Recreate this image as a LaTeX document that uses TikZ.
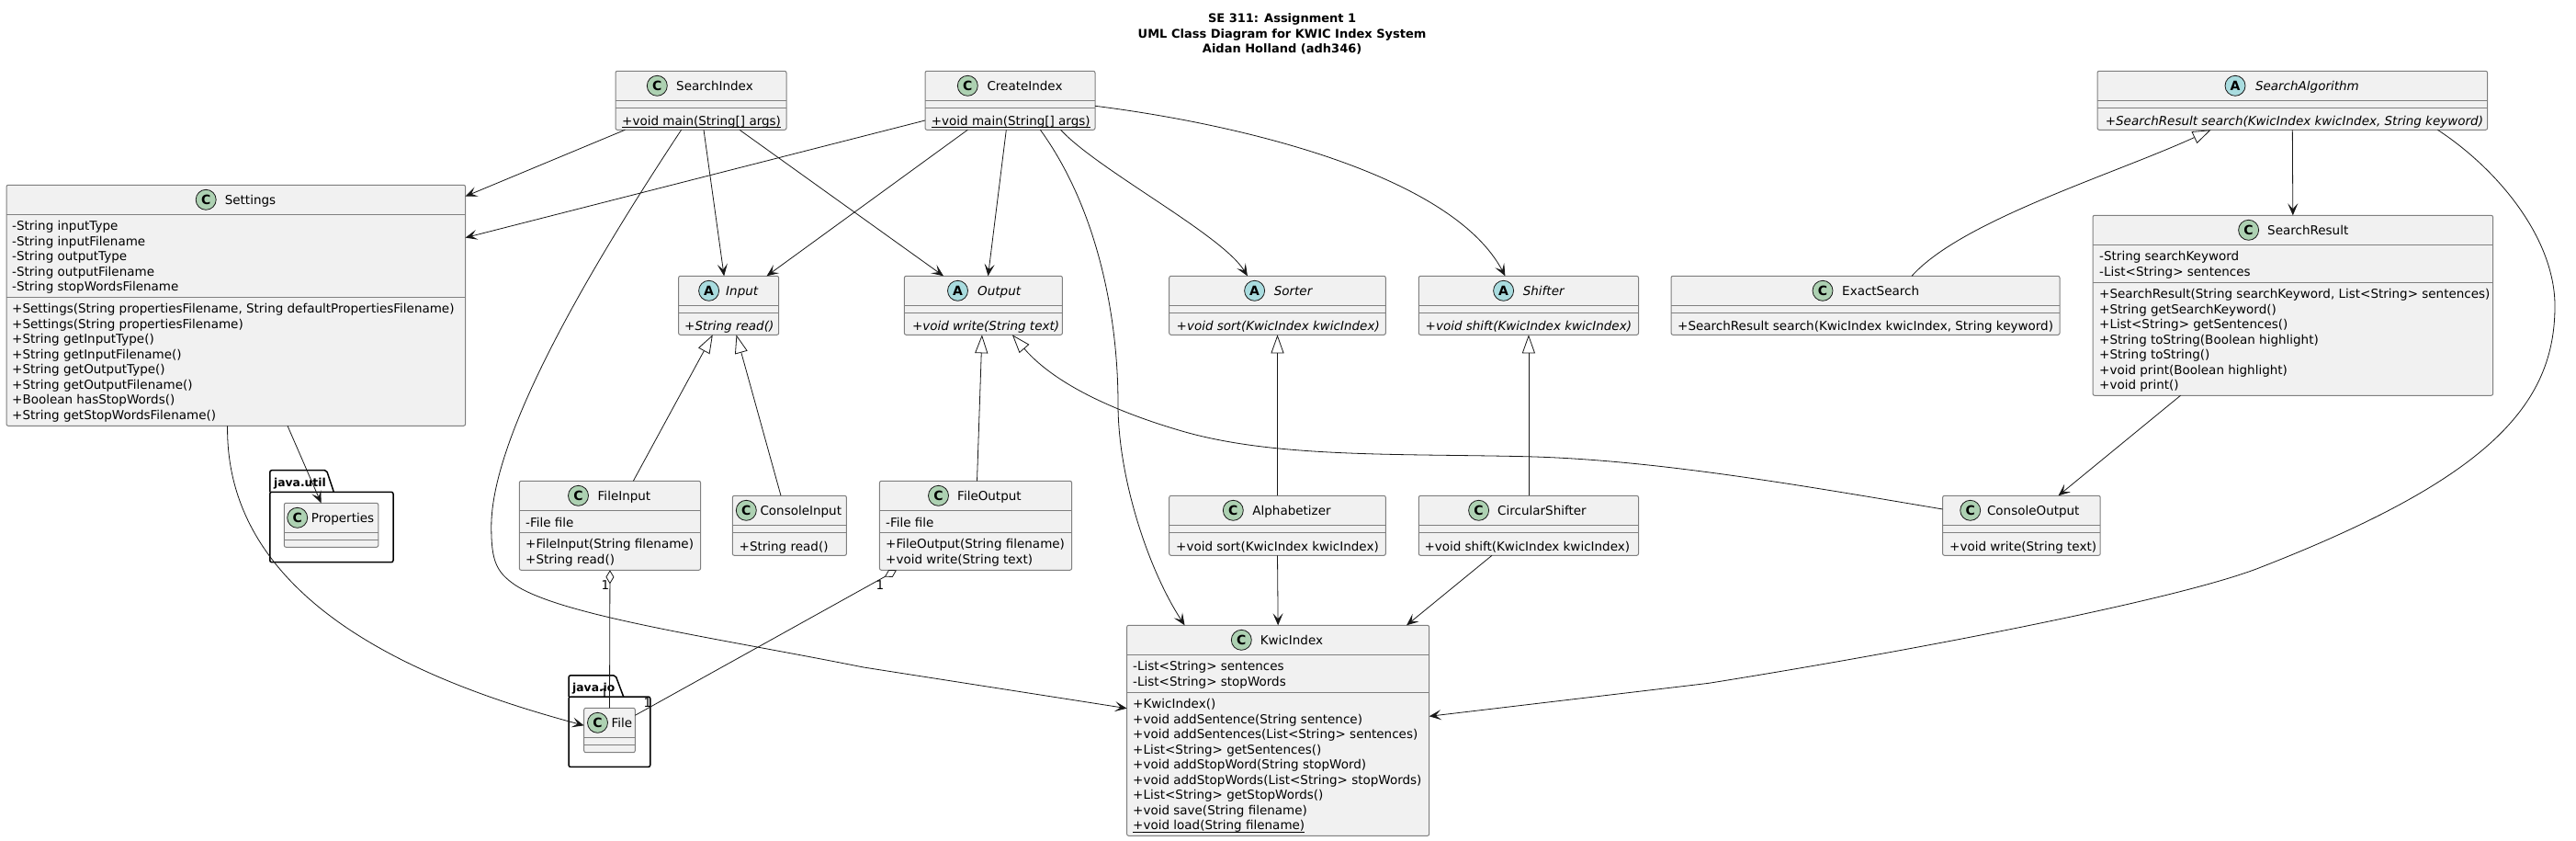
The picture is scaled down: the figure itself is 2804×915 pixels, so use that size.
\documentclass[tikz,border=0pt]{standalone}
\usepackage{fontspec}
\setmainfont{DejaVu Sans}
\usetikzlibrary{arrows.meta}
\definecolor{boxfill}{HTML}{F1F1F1}
\definecolor{boxline}{HTML}{7F7F7F}
\definecolor{edgeline}{HTML}{181818}
\definecolor{signC}{HTML}{ADD1B2}
\definecolor{signA}{HTML}{A9DCDF}
\newcommand{\staticrow}[1]{\setbox0\hbox{#1}\rlap{\rule[-3pt]{\wd0}{.9pt}}\box0}
\begin{document}
\begin{tikzpicture}[
        x=1pt, y=-1pt,
        classbox/.style={draw=boxline, fill=boxfill, line width=1pt, rounded corners=2pt, inner sep=0pt, outer sep=0pt},
        divider/.style={draw=boxline, line width=1pt},
        signmark/.style={circle, draw=edgeline, line width=.8pt, minimum size=22pt, inner sep=0pt, font=\fontsize{14}{14}\selectfont\bfseries},
        signC/.style={signmark, fill=signC},
        signA/.style={signmark, fill=signA},
        titleC/.style={anchor=base west, inner sep=0pt, font=\fontsize{13.5}{16.5}\selectfont},
        titleA/.style={titleC, font=\fontsize{13.5}{16.5}\selectfont\itshape},
        rows/.style={anchor=north west, inner sep=0pt, yshift=-1pt, align=left, font=\fontsize{13.5}{16.5}\selectfont, execute at begin node=\strut},
        absrows/.style={rows, font=\fontsize{13.5}{16.5}\selectfont\itshape},
        package/.style={draw=black, line width=1.5pt, rounded corners=2pt, inner sep=0pt, outer sep=0pt},
        pkgname/.style={anchor=base west, inner sep=0pt, font=\fontsize{12.3}{14}\selectfont\bfseries},
        mult/.style={inner sep=0pt, font=\fontsize{13.5}{14}\selectfont},
        assoc/.style={draw=edgeline, line width=.8pt, -{Stealth[length=13pt, width=11pt, inset=6pt]}},
        inherit/.style={draw=edgeline, line width=.8pt, -{Triangle[length=20pt, width=14pt, fill=white]}},
        aggr/.style={draw=edgeline, line width=.8pt, {Turned Square[length=15pt, width=9pt, fill=white]}-},
    ]
    \useasboundingbox (0,0) rectangle (2804,915);

    \node[align=center, inner sep=0pt, font=\fontsize{13}{16.5}\selectfont\bfseries] (heading) at (1395.6,37)
        {SE 311: Assignment 1\\UML Class Diagram for KWIC Index System\\Aidan Holland (adh346)};

    \node[package, minimum width=134.2pt, minimum height=76.4pt] (javautil) at (360.9,573.5) {};
    \draw[package] (javautil.north west) -- ([yshift=23.6pt]javautil.north west) -- (355.5,511.7) -- (363.3,535.3);
    \node[pkgname] (javautilname) at (298,529) {java.util};

    \node[package, minimum width=88.7pt, minimum height=76.4pt] (javaio) at (663.4,796.2) {};
    \draw[package] (javaio.north west) -- ([yshift=23.1pt]javaio.north west) -- (670,734.9) -- (678.7,758);
    \node[pkgname] (javaioname) at (623,752) {java.io};

    \foreach \cname/\kind/\xa/\ya/\xb/\yb/\yc/\signx/\titlex in {
        SearchIndex/C/670/77.3/856/141.3/117.3/715.3/736,
        CreateIndex/C/1007/77.3/1192/141.3/117.3/1053.3/1074.3,
        Settings/C/7/201.3/506.6/463.3/323.3/224.2/244.6,
        Input/A/738.6/300.3/847.7/364.3/340.3/771.6/790,
        Output/A/984.4/300.3/1156.4/364.3/340.3/1042.5/1064,
        Sorter/A/1272.7/300.3/1508.3/364.3/340.3/1365.6/1386.6,
        Shifter/A/1544.3/300.3/1783.5/364.3/340.3/1636.6/1657.6,
        ExactSearch/C/1819/300.3/2242/364.3/340.3/1984/2005,
        SearchAlgorithm/A/2283/77.3/2707.6/141.3/117.3/2433/2454.8,
        SearchResult/C/2278/234.3/2713.6/430.3/307.3/2447.6/2468,
        FileInput/C/565.3/523.3/762.6/620.3/579.3/629.5/650.5,
        ConsoleInput/C/797.3/539.3/921.4/604.3/579.3/812.3/827.3,
        FileOutput/C/957.4/523.3/1166.6/620.3/579.3/1021.5/1042,
        Alphabetizer/C/1272.7/539.3/1508.3/604.3/579.3/1342.3/1363.2,
        CircularShifter/C/1544.3/539.3/1783.5/604.3/579.3/1609.6/1630,
        ConsoleOutput/C/2114.6/539.3/2286.2/604.3/579.3/2144.7/2162.8,
        KwicIndex/C/1226.6/680.3/1555.7/909.3/753.3/1351.3/1371.6,
        Properties/C/309.3/547.3/411.8/595.3/587.3/323.7/338.7,
        File/C/635.7/770.3/691.3/818.7/810.3/650.5/665.4%
    }{
        \node[classbox, minimum width={(\xb-\xa)*1pt}, minimum height={(\yb-\ya)*1pt}] (\cname) at ({(\xa+\xb)/2},{(\ya+\yb)/2}) {};
        \draw[divider] (\xa,{\ya+32}) -- (\xb,{\ya+32});
        \draw[divider] (\xa,\yc) -- (\xb,\yc);
        \node[sign\kind] (\cname Sign) at (\signx,{\ya+16}) {\kind};
        \node[title\kind] (\cname Title) at (\titlex,{\ya+21}) {\cname};
    }

    \node[rows] (SearchIndexMethods) at (677,123.5) {\staticrow{+void main(String[] args)}};
    \node[rows] (CreateIndexMethods) at (1013.7,123.5) {\staticrow{+void main(String[] args)}};
    \node[rows] (SettingsFields) at (13,239.5) {-String inputType\\-String inputFilename\\-String outputType\\-String outputFilename\\-String stopWordsFilename};
    \node[rows] (SettingsMethods) at (13,329.5) {+Settings(String propertiesFilename, String defaultPropertiesFilename)\\+Settings(String propertiesFilename)\\+String getInputType()\\+String getInputFilename()\\+String getOutputType()\\+String getOutputFilename()\\+Boolean hasStopWords()\\+String getStopWordsFilename()};
    \node[absrows] (InputMethods) at (745,346.8) {+String read()};
    \node[absrows] (OutputMethods) at (992.8,346.8) {+void write(String text)};
    \node[absrows] (SorterMethods) at (1280.5,346.8) {+void sort(KwicIndex kwicIndex)};
    \node[absrows] (ShifterMethods) at (1551.5,346.8) {+void shift(KwicIndex kwicIndex)};
    \node[rows] (ExactSearchMethods) at (1826,346.8) {+SearchResult search(KwicIndex kwicIndex, String keyword)};
    \node[absrows] (SearchAlgorithmMethods) at (2291.6,123.5) {+SearchResult search(KwicIndex kwicIndex, String keyword)};
    \node[rows] (SearchResultFields) at (2285,272.5) {-String searchKeyword\\-List<String> sentences};
    \node[rows] (SearchResultMethods) at (2285,313.5) {+SearchResult(String searchKeyword, List<String> sentences)\\+String getSearchKeyword()\\+List<String> getSentences()\\+String toString(Boolean highlight)\\+String toString()\\+void print(Boolean highlight)\\+void print()};
    \node[rows] (FileInputFields) at (572,561.2) {-File file};
    \node[rows] (FileInputMethods) at (572,585.5) {+FileInput(String filename)\\+String read()};
    \node[rows] (ConsoleInputMethods) at (804.5,586.8) {+String read()};
    \node[rows] (FileOutputFields) at (964,561.2) {-File file};
    \node[rows] (FileOutputMethods) at (964,585.5) {+FileOutput(String filename)\\+void write(String text)};
    \node[rows] (AlphabetizerMethods) at (1280,586.8) {+void sort(KwicIndex kwicIndex)};
    \node[rows] (CircularShifterMethods) at (1550.3,586.8) {+void shift(KwicIndex kwicIndex)};
    \node[rows] (ConsoleOutputMethods) at (2122,586.8) {+void write(String text)};
    \node[rows] (KwicIndexFields) at (1233,718.5) {-List<String> sentences\\-List<String> stopWords};
    \node[rows] (KwicIndexMethods) at (1233,759.5) {+KwicIndex()\\+void addSentence(String sentence)\\+void addSentences(List<String> sentences)\\+List<String> getSentences()\\+void addStopWord(String stopWord)\\+void addStopWords(List<String> stopWords)\\+List<String> getStopWords()\\+void save(String filename)\\\staticrow{+void load(String filename)}};

    \draw[assoc] ([xshift=-82.6pt]SearchIndex.south) -- ([yshift=118.7pt]Settings.east);
    \draw[assoc] ([xshift=3pt]SearchIndex.south) -- ([xshift=-5pt]Input.north);
    \draw[assoc] ([xshift=42pt]SearchIndex.south) -- ([xshift=-43.4pt]Output.north);
    \draw[assoc] ([xshift=-21.4pt]SearchIndex.south) .. controls (650,280) and (534.8,470) .. (534.8,573)
        .. controls (534.8,610) and (540,622) .. (560,636)
        .. controls (610,670) and (780,694) .. (940,726) -- ([yshift=24.1pt]KwicIndex.west);
    \draw[assoc] ([yshift=-21.7pt]CreateIndex.west) -- ([yshift=73.7pt]Settings.east);
    \draw[assoc] ([xshift=-46.2pt]CreateIndex.south) -- ([xshift=41.4pt]Input.north);
    \draw[assoc] ([xshift=-4.2pt]CreateIndex.south) -- ([xshift=5.1pt]Output.north);
    \draw[assoc] ([xshift=32.9pt]CreateIndex.south) .. controls (1193,225) and (1217,340) .. (1217,440)
        .. controls (1217,520) and (1250,620) .. ([xshift=-101.6pt]KwicIndex.north);
    \draw[assoc] ([xshift=55.1pt]CreateIndex.south) .. controls (1195,185) and (1330,255) .. ([xshift=-32.6pt]Sorter.north);
    \draw[assoc] ([yshift=-6pt]CreateIndex.east) .. controls (1350,135) and (1580,190) .. ([xshift=-25.5pt]Shifter.north);
    \draw[assoc] ([xshift=56.2pt]Settings.south) -- ([xshift=-11pt]Properties.north);
    \draw[assoc] ([xshift=-9.2pt]Settings.south) .. controls (245,660) and (470,745) .. ([yshift=5.2pt]File.west);
    \draw[aggr] (FileInput.south) -- (File.north);
    \draw[aggr] ([xshift=-86pt]FileOutput.south) -- ([yshift=16.2pt]File.east);
    \node[mult] (multFileInput) at (659,637) {1};
    \node[mult] (multFileIn) at (658,755) {1};
    \node[mult] (multFileOutput) at (958,637) {1};
    \node[mult] (multFileOut) at (705,765) {1};
    \draw[inherit] ([xshift=25.4pt]FileInput.north) -- ([xshift=-17.35pt]Input.south);
    \draw[inherit] ([xshift=-9.35pt]ConsoleInput.north) -- ([xshift=8.35pt]Input.south);
    \draw[inherit] ([xshift=1.5pt]FileOutput.north) -- ([xshift=-1.5pt]Output.south);
    \draw[inherit] ([yshift=17.8pt]ConsoleOutput.west) .. controls (1960,528) and (1800,500) .. (1660,496.7)
        .. controls (1520,493.5) and (1390,498) .. (1290,470)
        .. controls (1220,450) and (1150,420) .. ([xshift=31.5pt]Output.south);
    \draw[inherit] (Alphabetizer.north) -- (Sorter.south);
    \draw[inherit] (CircularShifter.north) -- (Shifter.south);
    \draw[inherit] ([xshift=50.5pt]ExactSearch.north) .. controls (2135,240) and (2300,190) .. ([xshift=-88.7pt]SearchAlgorithm.south);
    \draw[assoc] (SearchAlgorithm.south) -- (SearchResult.north);
    \draw[assoc] ([xshift=158.1pt]SearchAlgorithm.south) .. controls (2720,185) and (2781,260) .. (2781,333)
        .. controls (2781,440) and (2710,520) .. (2462,616.7)
        .. controls (2380,650) and (2100,705) .. (1860,743.3) -- ([yshift=15.5pt]KwicIndex.east);
    \draw[assoc] ([xshift=-122.3pt]SearchResult.south) -- ([xshift=40.1pt]ConsoleOutput.north);
    \draw[assoc] (Alphabetizer.south) -- (KwicIndex.north);
    \draw[assoc] ([xshift=-39.9pt]CircularShifter.south) -- ([xshift=139.9pt]KwicIndex.north);

    \end{tikzpicture}
\end{document}
